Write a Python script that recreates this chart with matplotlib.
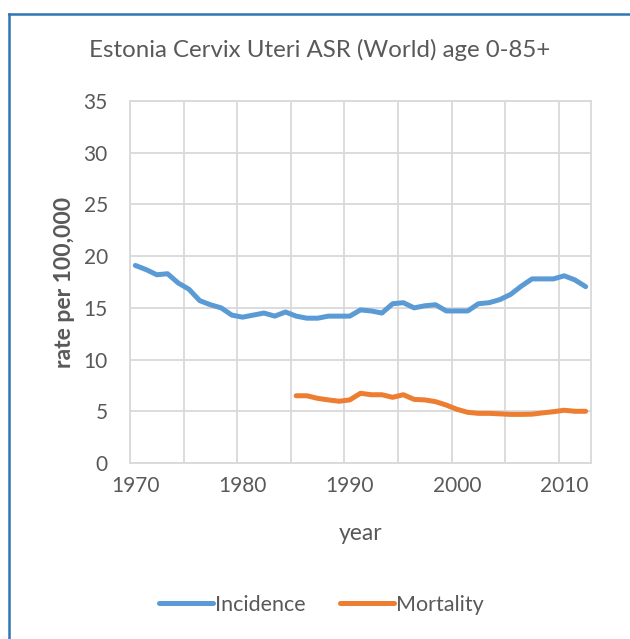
import matplotlib
matplotlib.use("Agg")
import matplotlib.pyplot as plt
from matplotlib.lines import Line2D

# values
years = list(range(1970, 2013))
incidence = [19.1, 18.7, 18.2, 18.3, 17.4, 16.8, 15.7, 15.3, 15.0, 14.3,
             14.1, 14.3, 14.5, 14.2, 14.6, 14.2, 14.0, 14.0, 14.2, 14.2,
             14.2, 14.8, 14.7, 14.5, 15.4, 15.5, 15.0, 15.2, 15.3, 14.7,
             14.7, 14.7, 15.4, 15.5, 15.8, 16.3, 17.1, 17.8, 17.8, 17.8,
             18.1, 17.7, 17.05]
mort_years = list(range(1985, 2013))
mortality = [6.5, 6.5, 6.25, 6.1, 5.97, 6.1, 6.74, 6.6, 6.6, 6.35,
             6.6, 6.15, 6.1, 5.93, 5.6, 5.19, 4.9, 4.8, 4.8, 4.75,
             4.7, 4.7, 4.72, 4.85, 4.96, 5.1, 5.0, 5.0]

title = 'Estonia Cervix Uteri ASR (World) age 0-85+'
text_col = '#595959'
grid_col = '#D9D9D9'

plt.rcParams['font.family'] = ['Lato', 'DejaVu Sans']

fig = plt.figure(figsize=(6.3, 6.39), dpi=100)
ax = fig.add_axes([130 / 630, 1 - 463 / 639, 461 / 630, 362 / 639])

ax.plot(years, incidence, color='#5B9BD5', lw=3.6, solid_capstyle='round',
        solid_joinstyle='round', label='Incidence')
ax.plot(mort_years, mortality, color='#ED7D31', lw=3.6, solid_capstyle='round',
        solid_joinstyle='round', label='Mortality')

ax.set_xlim(1969.5, 2012.5)
ax.set_ylim(0, 35)
ax.set_yticks(range(0, 36, 5))
ax.set_xticks(range(1970, 2011, 10))
ax.set_xticks([y - 0.5 for y in range(1970, 2011, 5)], minor=True)
ax.grid(axis='y', which='major', color=grid_col, lw=1.3)
ax.grid(axis='x', which='minor', color=grid_col, lw=1.3)
ax.set_axisbelow(True)
ax.tick_params(axis='both', which='both', length=0, labelsize=15, colors=text_col)
ax.tick_params(axis='y', pad=16)
ax.tick_params(axis='x', pad=9)
for s in ax.spines.values():
    s.set_color(grid_col)
    s.set_linewidth(1.3)

ax.set_ylabel('rate per 100,000', fontsize=16.5, color=text_col, fontweight='bold', labelpad=6)
ax.set_xlabel('year', fontsize=16.5, color=text_col, labelpad=20)
fig.text(0.508, 1 - 50 / 639, title, ha='center', va='center', fontsize=17.3, color=text_col)

fig.legend(loc='center', bbox_to_anchor=(0.51, 1 - 605 / 639), ncol=2, frameon=False,
           fontsize=15.5, handlelength=2.5, columnspacing=1.6, handletextpad=0.1,
           labelcolor=text_col)

# blue frame around the chart
fig.add_artist(Line2D([9 / 630, 9 / 630], [0, 1 - 14 / 639], color='#2E75B6', lw=1.8))
fig.add_artist(Line2D([9 / 630, 1], [1 - 14 / 639, 1 - 14 / 639], color='#2E75B6', lw=1.8))

fig.savefig('out.png', dpi=100)
